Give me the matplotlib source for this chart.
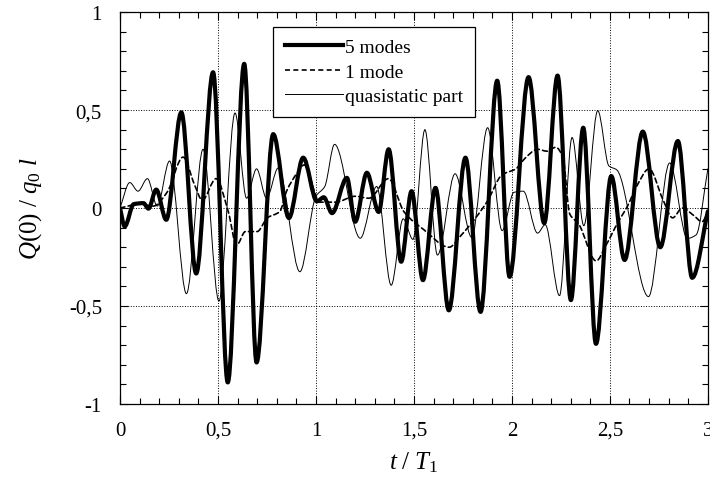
import matplotlib
matplotlib.use('Agg')
import matplotlib.pyplot as plt
import numpy as np
from matplotlib.path import Path
from matplotlib.patches import PathPatch
from matplotlib.lines import Line2D
from matplotlib.ticker import MultipleLocator, FuncFormatter

plt.rcParams['font.family'] = 'Liberation Serif'
plt.rcParams['mathtext.fontset'] = 'custom'
plt.rcParams['mathtext.rm'] = 'Liberation Serif'
plt.rcParams['mathtext.it'] = 'Liberation Serif:italic'

# values (extrema and a few in-between points)
t_5modes = [0, 0.024, 0.07, 0.12, 0.145, 0.185, 0.236, 0.313, 0.389, 0.475,
            0.55, 0.634, 0.697, 0.782, 0.862, 0.935, 1.005, 1.04, 1.082, 1.158,
            1.2, 1.26, 1.32, 1.371, 1.435, 1.488, 1.546, 1.61, 1.678, 1.763,
            1.84, 1.925, 1.988, 2.085, 2.165, 2.233, 2.301, 2.364, 2.429, 2.507,
            2.575, 2.668, 2.757, 2.847, 2.92, 3.0]
q_5modes = [0, -0.094, 0.02, 0.025, -0.003, 0.094, -0.06, 0.488, -0.334, 0.693,
            -0.89, 0.736, -0.788, 0.377, -0.051, 0.257, 0.034, 0.055, -0.026, 0.154,
            -0.07, 0.18, -0.02, 0.30, -0.274, 0.086, -0.368, 0.103, -0.522, 0.257,
            -0.53, 0.65, -0.351, 0.668, -0.077, 0.676, -0.47, 0.41, -0.693, 0.163,
            -0.265, 0.39, -0.2, 0.342, -0.356, -0.017]

t_1mode = [0, 0.1, 0.17, 0.24, 0.322, 0.38, 0.42, 0.49, 0.553, 0.595,
           0.64, 0.70, 0.752, 0.816, 0.85, 0.905, 0.94, 1.02, 1.1, 1.2,
           1.27, 1.37, 1.45, 1.55, 1.68, 1.74, 1.815, 1.875, 1.95, 2.02,
           2.07, 2.13, 2.18, 2.224, 2.26, 2.295, 2.34, 2.43, 2.48, 2.54,
           2.59, 2.636, 2.70, 2.77, 2.82, 2.87, 2.93, 2.97, 3.0]
q_1mode = [0.0, 0.02, 0.01, 0.08, 0.26, 0.12, 0.04, 0.15, -0.02, -0.19,
           -0.12, -0.12, -0.05, -0.017, 0.086, 0.18, 0.22, 0.03, 0.03, 0.06,
           0.05, 0.15, -0.02, -0.11, -0.2, -0.14, -0.05, 0.035, 0.17, 0.2,
           0.257, 0.30, 0.29, 0.31, 0.26, -0.03, -0.08, -0.27, -0.19, -0.075,
           0.01, 0.11, 0.2, 0.045, -0.05, 0.0, -0.04, -0.07, -0.02]

t_quasi = [0, 0.05, 0.092, 0.14, 0.19, 0.253, 0.339, 0.424, 0.505, 0.587,
           0.646, 0.697, 0.748, 0.808, 0.918, 1.0, 1.045, 1.095, 1.226, 1.31,
           1.384, 1.445, 1.495, 1.556, 1.62, 1.71, 1.795, 1.876, 1.95, 2.01,
           2.058, 2.131, 2.17, 2.243, 2.307, 2.367, 2.438, 2.495, 2.535, 2.697,
           2.805, 2.895, 2.94, 3.0]
q_quasi = [0.0, 0.13, 0.086, 0.15, 0.01, 0.24, -0.437, 0.30, -0.475, 0.485,
           0.05, 0.20, 0.05, 0.205, -0.325, 0.06, 0.11, 0.325, -0.154, 0.11,
           -0.394, -0.055, -0.16, 0.40, -0.24, 0.175, -0.15, 0.41, -0.115, 0.08,
           0.086, -0.128, -0.085, -0.447, 0.36, -0.09, 0.497, 0.215, 0.195, -0.452,
           0.23, -0.155, -0.137, 0.2]

labels = ['5 modes', '1 mode', 'quasistatic part']


def smooth_path(t, y):
    # monotone cubic (Fritsch-Carlson) as bezier segments through the points
    t = np.asarray(t, float)
    y = np.asarray(y, float)
    h = np.diff(t)
    d = np.diff(y) / h
    m = np.zeros_like(y)
    m[0] = d[0]
    m[-1] = d[-1]
    for k in range(1, len(y) - 1):
        if d[k - 1] * d[k] > 0:
            w1 = 2 * h[k] + h[k - 1]
            w2 = h[k] + 2 * h[k - 1]
            m[k] = (w1 + w2) / (w1 / d[k - 1] + w2 / d[k])
    verts = [(t[0], y[0])]
    codes = [Path.MOVETO]
    for k in range(len(h)):
        verts += [(t[k] + h[k] / 3, y[k] + m[k] * h[k] / 3),
                  (t[k + 1] - h[k] / 3, y[k + 1] - m[k + 1] * h[k] / 3),
                  (t[k + 1], y[k + 1])]
        codes += [Path.CURVE4] * 3
    return Path(verts, codes)


fig = plt.figure(figsize=(7.1, 4.85), dpi=100)
ax = fig.add_axes([0.169, 0.165, 0.828, 0.808])

styles = [dict(lw=3.0, ls='-'), dict(lw=1.2, ls=(0, (3, 2))), dict(lw=0.7, ls='-')]
series = [(t_5modes, q_5modes), (t_1mode, q_1mode), (t_quasi, q_quasi)]
handles = []
for (t, q), st, lab in zip(series, styles, labels):
    ax.add_patch(PathPatch(smooth_path(t, q), fill=False, edgecolor='black',
                           linewidth=st['lw'], linestyle=st['ls'],
                           capstyle='round', joinstyle='round'))
    handles.append(Line2D([], [], color='black', lw=st['lw'], ls=st['ls'], label=lab))

ax.set_xlim(0, 3)
ax.set_ylim(-1, 1)
ax.xaxis.set_major_locator(MultipleLocator(0.5))
ax.xaxis.set_minor_locator(MultipleLocator(0.1))
ax.yaxis.set_major_locator(MultipleLocator(0.5))
ax.yaxis.set_minor_locator(MultipleLocator(0.1))
comma = FuncFormatter(lambda v, p: ('%g' % v).replace('.', ','))
ax.xaxis.set_major_formatter(comma)
ax.yaxis.set_major_formatter(comma)
ax.tick_params(which='both', direction='in', top=True, right=True, labelsize=15)
ax.tick_params(which='major', length=6, width=0.8)
ax.tick_params(which='minor', length=4, width=0.8)
ax.tick_params(axis='x', pad=12)
ax.tick_params(axis='y', pad=13)
ax.grid(True, which='major', linestyle=':', color='black', linewidth=0.7)
for s in ax.spines.values():
    s.set_linewidth(0.9)

ax.set_xlabel(r'$t\ /\ T_1$', fontsize=18)
ax.set_ylabel(r'$Q(0)\ /\ q_0\ l$', fontsize=18)
ax.xaxis.set_label_coords(0.5, -0.115)
ax.yaxis.set_label_coords(-0.13, 0.5)

leg = ax.legend(handles=handles, loc='upper left', bbox_to_anchor=(0.26, 0.962),
                fontsize=14, frameon=True, fancybox=False, framealpha=1,
                edgecolor='black', handlelength=3.0, handletextpad=0.1,
                labelspacing=0.35, borderpad=0.6, borderaxespad=0)
leg.get_frame().set_linewidth(0.9)

fig.savefig('out.png', dpi=100)
